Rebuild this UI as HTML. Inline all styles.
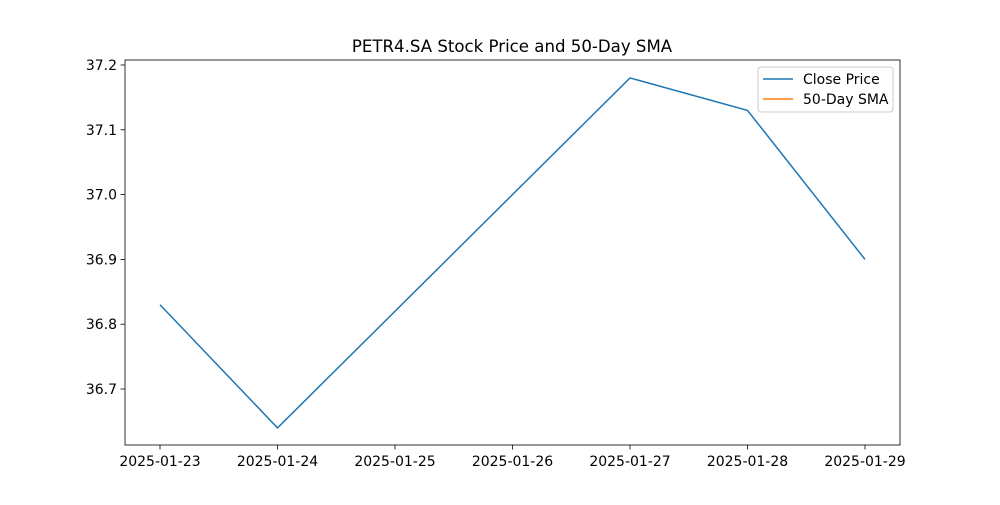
<!DOCTYPE html>
<html><head><meta charset="utf-8"><style>
body{margin:0;background:#fff;font-family:"Liberation Sans","DejaVu Sans",sans-serif}
</style></head><body>
<svg width="1000" height="500" xmlns="http://www.w3.org/2000/svg" font-family="DejaVu Sans, Liberation Sans, sans-serif">
<text x="512" y="52" font-size="16.6" text-anchor="middle">PETR4.SA Stock Price and 50-Day SMA</text>
<g id="xt"></g>
<g id="yt"></g>
<polyline id="line" fill="none" stroke="#1f77b4" stroke-width="1.5"/>
<rect x="125" y="60" width="775" height="385" fill="none" stroke="#000" stroke-width="0.8"/>
<g>
<rect x="758" y="67" width="135" height="45" rx="3" fill="#fff" stroke="#ccc"/>
<line x1="763" y1="79" x2="793" y2="79" stroke="#1f77b4" stroke-width="1.5"/>
<text x="803" y="84" font-size="14">Close Price</text>
<line x1="763" y1="99" x2="793" y2="99" stroke="#ff7f0e" stroke-width="1.5"/>
<text x="803" y="104" font-size="14">50-Day SMA</text>
</g>
</svg>
<script>
const tickLabels=["2025-01-23","2025-01-24","2025-01-25","2025-01-26","2025-01-27","2025-01-28","2025-01-29"];
const dayIdx=[0,1,4,5,6];
const closeVals=[36.83,36.64,37.18,37.13,36.90];
const yTicks=[36.7,36.8,36.9,37.0,37.1,37.2];
const ns="http://www.w3.org/2000/svg";
const xs=d=>160+d*117.5;
const ys=v=>65+(37.2-v)*648;
const xt=document.getElementById('xt'),yt=document.getElementById('yt');
tickLabels.forEach((t,i)=>{
 const l=document.createElementNS(ns,'line');
 l.setAttribute('x1',xs(i));l.setAttribute('x2',xs(i));l.setAttribute('y1',445);l.setAttribute('y2',449.5);l.setAttribute('stroke','#000');l.setAttribute('stroke-width','0.8');
 
 
 xt.appendChild(l);
 const s=document.createElementNS(ns,'text');
 s.setAttribute('x',xs(i));s.setAttribute('y',466);s.setAttribute('font-size','14');s.setAttribute('text-anchor','middle');s.textContent=t;
 
 
 xt.appendChild(s);
});
yTicks.forEach(v=>{
 const l=document.createElementNS(ns,'line');
 l.setAttribute('x1',120.5);l.setAttribute('x2',125);l.setAttribute('y1',ys(v));l.setAttribute('y2',ys(v));l.setAttribute('stroke','#000');l.setAttribute('stroke-width','0.8');
 
 
 yt.appendChild(l);
 const s=document.createElementNS(ns,'text');
 s.setAttribute('x',117);s.setAttribute('y',ys(v)+5);s.setAttribute('font-size','14');s.setAttribute('text-anchor','end');s.textContent=v.toFixed(1);
 
 
 yt.appendChild(s);
});
document.getElementById('line').setAttribute('points',closeVals.map((v,i)=>xs(dayIdx[i])+','+ys(v)).join(' '));
</script>
</body></html>
